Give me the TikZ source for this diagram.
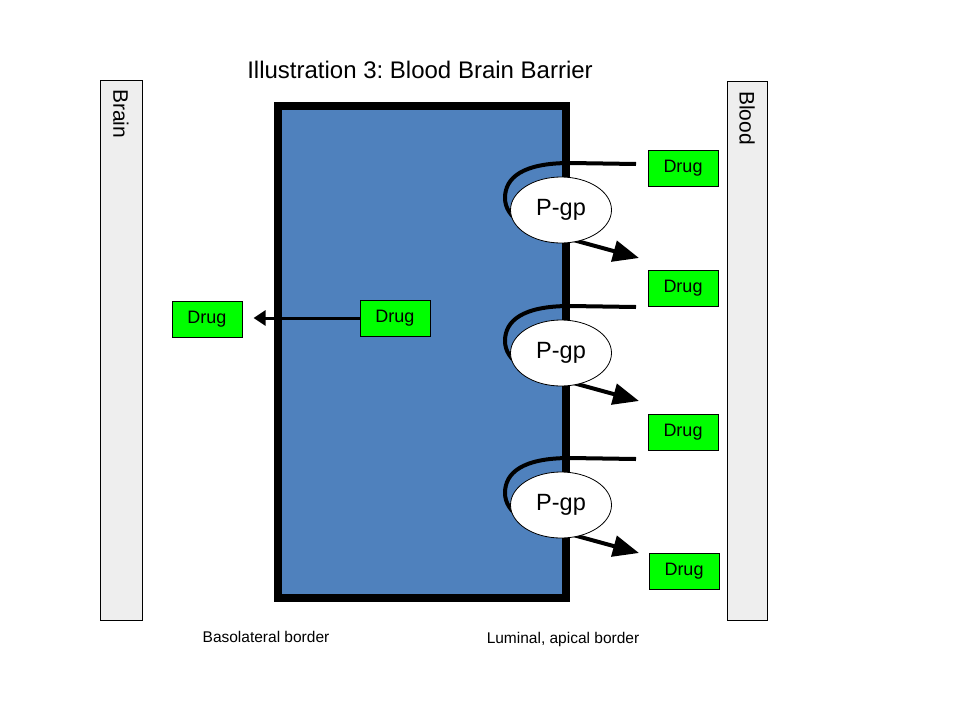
\documentclass[tikz,border=0pt]{standalone}
\usepackage{fontspec}
\setmainfont{Liberation Sans}
\usetikzlibrary{arrows.meta,shapes.geometric}
\definecolor{cellblue}{HTML}{4F81BD}
\definecolor{drugg}{HTML}{00FF00}
\definecolor{bargray}{HTML}{EEEEEE}
\frenchspacing
\tikzset{
  drugbox/.style={draw=black, fill=drugg, line width=0.8pt, minimum width=70pt, minimum height=36pt, inner sep=0pt, font=\fontsize{18}{20}\selectfont},
  sidebar/.style={draw=black, fill=bargray, line width=0.8pt},
  pgp/.style={draw=black, fill=white, ellipse, line width=0.8pt, minimum width=101pt, minimum height=66pt, inner sep=0pt, font=\fontsize{23.5}{26}\selectfont},
  pump/.style={line width=4pt, -{Triangle[length=26pt,width=21pt]}},
  bartext/.style={rotate=-90, anchor=west, inner sep=0pt, font=\fontsize{21}{24}\selectfont},
  lbl/.style={font=\fontsize{15.5}{18}\selectfont, inner sep=0pt}
}
\begin{document}
\begin{tikzpicture}[x=1pt,y=-1pt]
\useasboundingbox (0,0) rectangle (960,720);
% title
\node[font=\fontsize{24}{28}\selectfont, inner sep=0pt] (title) at (420,70) {Illustration 3: Blood Brain Barrier};
% side bars
\draw[sidebar] (100.5,80.5) rectangle (142,620);
\node[bartext] (brain) at (121,89) {Brain};
\draw[sidebar] (727,81) rectangle (767,620);
\node[bartext] (blood) at (747,91) {Blood};
% cell
\draw[fill=cellblue, line width=8pt] (278,106) rectangle (566,598);
% drugs
\node[drugbox] (d1) at (683,168) {Drug};
\node[drugbox] (d2) at (683,288) {Drug};
\node[drugbox] (d3) at (683,432) {Drug};
\node[drugbox] (d4) at (684,571) {Drug};
\node[drugbox] (dl) at (207,319) {Drug};
\node[drugbox] (di) at (395,318) {Drug};
\draw[line width=3pt, -{Triangle[length=12pt,width=15pt]}] (di.west) -- ++(-106,0) coordinate (lt);
% pumps
\foreach \c/\n in {210/a,353/b,505/c}{
  \coordinate (s\n) at (636,\c-46);
  \coordinate (t\n) at (639,\c+48);
  \draw[pump] (s\n) -- (570,\c-47) .. controls (522,\c-47) and (505,\c-32) .. (505,\c-12)
     .. controls (505,\c+8) and (528,\c+22) .. (566,\c+28) -- (t\n);
  \node[pgp] (p\n) at (561,\c) {P-gp};
}
% labels
\node[lbl] (baso) at (266,637) {Basolateral border};
\node[lbl] (lum) at (563,639) {Luminal, apical border};
\end{tikzpicture}
\end{document}
